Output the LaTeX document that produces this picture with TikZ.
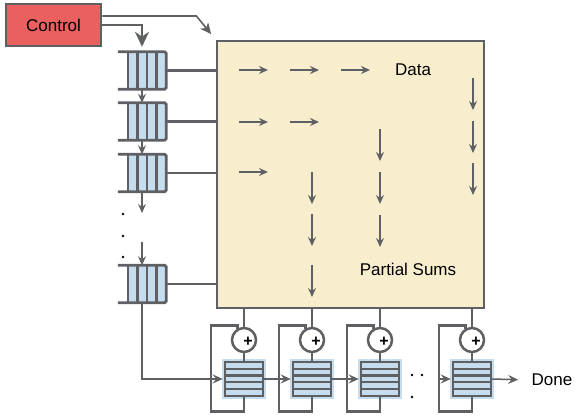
\documentclass[tikz,border=0pt]{standalone}
\usepackage{fontspec}
\setmainfont{Liberation Sans}
\usetikzlibrary{arrows.meta,calc}
\definecolor{boxfill}{HTML}{F8EDCC}
\definecolor{ctrlfill}{HTML}{E9605E}
\definecolor{qblue}{HTML}{C6DDF0}
\definecolor{lc}{HTML}{5E6064}
\begin{document}
\begin{tikzpicture}[x=1pt,y=-1pt,
  font=\fontsize{17}{20}\selectfont,
  thickline/.style={draw=lc,line width=2.8pt},
  thinarrow/.style={draw=lc,line width=1.3pt,-{Stealth[length=9pt,width=8pt,inset=3pt]}},
  chainarrow/.style={draw=lc,line width=1.5pt,-{Stealth[length=10pt,width=9pt,inset=3.5pt]}},
  lqueue/.style={rectangle,minimum width=48pt,minimum height=37pt,inner sep=0pt},
  bqueue/.style={rectangle,draw=lc,line width=2.5pt,fill=qblue,preaction={draw=qblue,line width=6pt},
    minimum width=38pt,minimum height=34pt,inner sep=0pt,
    path picture={\foreach \k in {1,...,4}{\draw[lc,line width=2.2pt]
      ($(path picture bounding box.north west)!\k/5!(path picture bounding box.south west)$) --
      ($(path picture bounding box.north east)!\k/5!(path picture bounding box.south east)$);}}},
  adder/.style={circle,draw=lc,line width=2.5pt,fill=white,minimum size=24pt,inner sep=0pt},
  plus/.style={font=\bfseries\fontsize{16}{16}\selectfont,inner sep=0pt},
  dotmark/.style={circle,fill=black,inner sep=0pt,minimum size=2.8pt},
  ctrlbox/.style={rectangle,draw=lc,line width=2.8pt,fill=ctrlfill,minimum width=95pt,minimum height=42pt,inner sep=0pt},
  bigbox/.style={rectangle,draw=lc,line width=2.8pt,fill=boxfill,minimum width=267pt,minimum height=267pt,inner sep=0pt},
]
\useasboundingbox (0,0) rectangle (581,419);

% main array
\node[bigbox] (box) at (350.5,174.5) {};
\node (data) at (413,70) {Data};
\node (ps) at (408,269) {Partial Sums};

% interior arrows: data flow
\foreach \x/\y in {239/70,290/70,341/70,239/122,290/122,239/172}
  \draw[thinarrow] (\x,\y) -- ++(29,0);
% interior arrows: partial sums
\foreach \x/\y in {473/78,473/121,473/163,380/129,380/172,380/215,312/172,312/214,312/265}
  \draw[thinarrow] (\x,\y) -- ++(0,32);

% control
\node[ctrlbox] (ctrl) at (53.5,25) {Control};

% left queues
\node[lqueue] (q1) at (142,70.5) {};
\node[lqueue] (q2) at (142,121.5) {};
\node[lqueue] (q3) at (142,173) {};
\node[lqueue] (q4) at (142,284) {};
\foreach \q in {q1,q2,q3,q4} {
  \fill[qblue] ($(\q.north west)+(10,0)$) rectangle (\q.south east);
  \foreach \dx in {10,19.5,29,38.7}
    \draw[lc,line width=2.5pt] ($(\q.north west)+(\dx,0)$) -- ($(\q.south west)+(\dx,0)$);
  \draw[thickline,rounded corners=1.5pt] (\q.north west) -- (\q.north east) -- (\q.south east) -- (\q.south west);
  \draw[thickline] (\q.east) -- (\q.east -| box.west);
}

% control arrows
\draw[thickline,-{Stealth[length=15pt,width=14pt]},shorten >=5pt] (ctrl.east) -| (q1.north);
\draw[lc,line width=1.6pt,-{Stealth[length=11pt,width=10pt,inset=3pt]},shorten >=7pt]
  ([yshift=9pt]ctrl.east) -- ++(94,0) -- (box.north west);

% queue chain arrows
\draw[thinarrow] (q1.south) -- (q2.north);
\draw[thinarrow] (q2.south) -- (q3.north);
\coordinate (d1) at (142,213);
\coordinate (d2) at (142,242);
\draw[thinarrow] (q3.south) -- (d1);
\draw[thinarrow] (d2) -- (q4.north);
\node[dotmark] (ld1) at (123,214) {};
\node[dotmark] (ld2) at (123,236) {};
\node[dotmark] (ld3) at (123,257) {};

% bottom accumulators
\foreach \i/\cx in {1/244,2/312,3/380,4/472} {
  \node[adder] (c\i) at (\cx,340) {};
  \node[plus] (p\i) at (\cx+4,342) {+};
  \node[bqueue] (b\i) at (\cx,379) {};
  \draw[thickline] (c\i.north |- box.south) -- (c\i.north);
  \draw[thickline] (c\i.south) -- (b\i.north);
  \draw[thickline] (b\i.south) -- ++(0,14) -| ++(-33,-86) -| (c\i.120);
}

% chain of accumulators
\draw[chainarrow,shorten >=1pt] (q4.south) |- (b1.west);
\draw[chainarrow,shorten >=1pt] (b1.east) -- (b2.west);
\draw[chainarrow,shorten >=1pt] (b2.east) -- (b3.west);
\coordinate (in4) at (439,379);
\draw[chainarrow,shorten >=1pt] (in4) -- (b4.west);
\node (done) at (552,380) {Done};
\draw[chainarrow,shorten >=10pt] (b4.east) -- (done.west);
\node[dotmark] (bd1) at (412,375) {};
\node[dotmark] (bd2) at (422,375) {};
\node[dotmark] (bd3) at (412,397) {};
\end{tikzpicture}
\end{document}
